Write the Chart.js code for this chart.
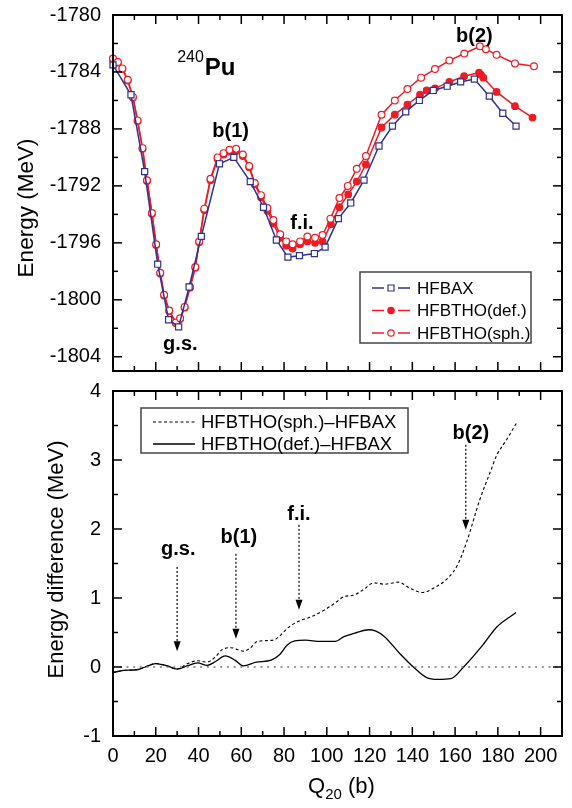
<!DOCTYPE html>
<html>
<head>
<meta charset="utf-8">
<title>240Pu energy curves</title>
<script src="https://cdn.jsdelivr.net/npm/chart.js@4.4.1/dist/chart.umd.min.js"></script>
<style>
  html, body { margin: 0; padding: 0; background: #fff; }
  #wrap { position: relative; width: 572px; height: 808px; overflow: hidden; }
  canvas { position: absolute; left: 0; }
  #top { top: -9px; }
  #bottom { top: 367px; }
</style>
</head>
<body>
<div id="wrap">
  <canvas id="top" width="572" height="404"></canvas>
  <canvas id="bottom" width="572" height="441"></canvas>
</div>
<script>
// ---- top panel: total energy (MeV) vs Q20 (b)
let baxQ = [0, 8.4, 14.8, 20.9, 26, 30.7, 35.6, 41.3, 49.8, 56.5, 64.2, 70.4, 76.4, 81.8, 87.2, 94.2, 99.2, 105.4, 111.2, 117.4, 124.4, 130.7, 136.9, 143.3, 149.8, 156.3, 162.6, 169, 176, 182.3, 188.5];
let baxE = [-1783.5, -1785.6, -1791.0, -1797.5, -1801.4, -1801.9, -1799.1, -1795.55, -1790.45, -1790.0, -1791.7, -1793.5, -1795.8, -1797.0, -1796.9, -1796.75, -1796.3, -1794.3, -1793.2, -1791.6, -1789.2, -1787.8, -1786.8, -1786.0, -1785.3, -1785.0, -1784.7, -1784.5, -1785.7, -1786.9, -1787.8];

let defQ = [0, 2.3, 4.4, 6.9, 9.3, 11.5, 13.8, 15.9, 18.2, 20.2, 22.1, 23.9, 26.3, 29.4, 31.4, 33.5, 36, 38.5, 40.3, 42.7, 45.6, 48.9, 51.7, 54.5, 57.6, 60.7, 63.7, 66.3, 69.2, 72.2, 75, 78.2, 81, 84, 87.5, 90.9, 94.5, 98, 101.9, 105.9, 110, 114, 118.3, 125.6, 131.8, 137.7, 143.6, 146.7, 150.6, 157.3, 164.2, 171.2, 172.1, 173.2, 179.4, 188, 196.2];
let defE = [-1783.1, -1783.35, -1783.8, -1784.6, -1785.8, -1787.45, -1789.4, -1791.65, -1793.95, -1796.15, -1798.15, -1799.7, -1800.8, -1801.65, -1801.35, -1800.55, -1799.15, -1797.75, -1795.95, -1793.7, -1791.6, -1790.1, -1789.8, -1789.6, -1789.55, -1789.9, -1790.7, -1791.9, -1792.8, -1793.75, -1794.65, -1795.65, -1796.2, -1796.4, -1796.1, -1795.9, -1796.0, -1795.9, -1794.7, -1793.5, -1792.6, -1791.7, -1790.5, -1787.9, -1787.0, -1786.3, -1785.6, -1785.3, -1785.15, -1784.7, -1784.3, -1784.05, -1784.2, -1784.4, -1785.4, -1786.4, -1787.2];

let sphQ = [0, 2.3, 4.4, 6.9, 9.3, 11.5, 13.8, 15.9, 18.2, 20.2, 22.1, 23.9, 26.3, 29.4, 31.4, 33.5, 36, 38.5, 40.3, 42.7, 45.6, 48.9, 51.7, 54.5, 57.6, 60.7, 63.7, 66.3, 69.2, 72.2, 75, 78.2, 81, 84, 87.5, 90.9, 94.5, 98, 101.7, 105.9, 109.8, 114, 118.3, 125.6, 131.8, 137.7, 144.1, 150.6, 157.3, 164.3, 171.6, 174.4, 179.4, 188, 196.9];
let sphE = [-1783.05, -1783.3, -1783.75, -1784.55, -1785.75, -1787.4, -1789.35, -1791.6, -1793.9, -1796.1, -1798.1, -1799.65, -1800.75, -1801.6, -1801.3, -1800.5, -1799.1, -1797.7, -1795.9, -1793.6, -1791.5, -1790.0, -1789.7, -1789.47, -1789.4, -1789.8, -1790.6, -1791.8, -1792.65, -1793.55, -1794.4, -1795.4, -1795.9, -1796.1, -1795.9, -1795.55, -1795.65, -1795.45, -1794.3, -1792.85, -1792.0, -1790.8, -1789.9, -1787.0, -1786.0, -1785.2, -1784.4, -1783.8, -1783.2, -1782.7, -1782.2, -1782.4, -1782.8, -1783.4, -1783.6];

let topYTicks = [-1804, -1802, -1800, -1798, -1796, -1794, -1792, -1790, -1788, -1786, -1784, -1782, -1780];

let topNoteText = ['b(1)', 'g.s.', 'f.i.', 'b(2)'];
let topNoteQ = [55, 31.5, 88.4, 169];
let topNoteE = [-1788.6, -1803.5, -1795.0, -1781.9];

// ---- bottom panel: energy difference (MeV)
let solidQ = [0, 5, 11, 15, 20, 25, 30, 35, 39.5, 44, 48, 52.5, 57, 61, 67, 74, 78, 81.5, 85, 90, 97, 104, 108, 114, 119.5, 123, 127, 134, 140.5, 146.5, 152, 158, 164, 173, 179.5, 188.5];
let solidD = [-0.08, -0.05, -0.04, 0.0, 0.05, 0.02, -0.03, 0.02, 0.06, 0.025, 0.08, 0.16, 0.1, 0.015, 0.07, 0.1, 0.18, 0.32, 0.38, 0.39, 0.37, 0.37, 0.44, 0.5, 0.54, 0.52, 0.44, 0.2, 0.0, -0.15, -0.18, -0.17, 0.0, 0.32, 0.58, 0.79];

let dashQ = [0, 5, 11, 15, 20, 25, 30, 35, 39.5, 44, 48, 51, 55, 61, 64, 67.5, 75, 78, 81.5, 86.5, 92, 98.5, 104, 108, 112.5, 117, 122, 127, 133.5, 139, 144.5, 151, 157, 161, 165.5, 171.5, 176.5, 179.5, 184, 189];
let dashD = [-0.08, -0.05, -0.04, 0.0, 0.05, 0.02, -0.03, 0.05, 0.09, 0.07, 0.15, 0.25, 0.28, 0.23, 0.27, 0.37, 0.39, 0.45, 0.56, 0.66, 0.72, 0.82, 0.93, 1.02, 1.04, 1.12, 1.22, 1.2, 1.23, 1.14, 1.08, 1.16, 1.3, 1.47, 1.82, 2.42, 2.83, 3.07, 3.29, 3.55];

let zeroQ = [0, 210];
let zeroD = [0, 0];

let arrowText = ['g.s.', 'b(1)', 'f.i.', 'b(2)'];
let arrowQ = [30, 57.5, 87, 165];
let arrowTop = [1.45, 1.64, 2.06, 3.22];
let arrowTip = [0.23, 0.41, 0.83, 1.99];
let labelQ = [30.5, 58.9, 87, 167.4];
let labelD = [1.71, 1.88, 2.21, 3.38];

const BLUE = '#2e3192';
const RED = '#ed1c24';
const FONT = '"Liberation Sans", Arial, sans-serif';

Chart.defaults.font.family = FONT;
Chart.defaults.color = '#000';

function pts(xs, ys) {
  return xs.map((q, i) => ({x: q, y: ys[i]}));
}

function line(ctx, x0, y0, x1, y1) {
  ctx.beginPath();
  ctx.moveTo(x0, y0);
  ctx.lineTo(x1, y1);
  ctx.stroke();
}

// box round the plot and tick marks pointing inward on all four sides
const frameTicks = {
  id: 'frameTicks',
  afterDatasetsDraw(chart) {
    const {ctx, chartArea: a, scales} = chart;
    ctx.save();
    ctx.strokeStyle = '#000';
    ctx.lineWidth = 1.5;
    scales.x.ticks.forEach(t => {
      const px = scales.x.getPixelForValue(t.value);
      if (px <= a.left + 1 || px >= a.right - 1) return;
      const len = t.label !== '' ? 9 : 5;
      line(ctx, px, a.bottom, px, a.bottom - len);
      line(ctx, px, a.top, px, a.top + len);
    });
    scales.y.ticks.forEach(t => {
      const py = scales.y.getPixelForValue(t.value);
      if (py <= a.top + 1 || py >= a.bottom - 1) return;
      const len = t.label !== '' ? 9 : 5;
      line(ctx, a.left, py, a.left + len, py);
      line(ctx, a.right, py, a.right - len, py);
    });
    ctx.lineWidth = 2;
    ctx.strokeRect(a.left, a.top, a.right - a.left, a.bottom - a.top);
    ctx.restore();
  }
};

function yTitle(ctx, text, cx, cy, size) {
  ctx.save();
  ctx.translate(cx, cy);
  ctx.rotate(-Math.PI / 2);
  ctx.font = size + 'px ' + FONT;
  ctx.textAlign = 'center';
  ctx.textBaseline = 'middle';
  ctx.fillStyle = '#000';
  ctx.fillText(text, 0, 0);
  ctx.restore();
}

const topNotes = {
  id: 'topNotes',
  afterDraw(chart) {
    const {ctx, chartArea: a, scales: {x, y}} = chart;
    ctx.save();
    ctx.fillStyle = '#000';
    ctx.textAlign = 'center';
    ctx.textBaseline = 'alphabetic';
    ctx.font = 'bold 20px ' + FONT;
    topNoteText.forEach((t, i) => {
      ctx.fillText(t, x.getPixelForValue(topNoteQ[i]), y.getPixelForValue(topNoteE[i]));
    });

    // isotope name
    ctx.textAlign = 'left';
    const ix = x.getPixelForValue(30);
    ctx.font = '16px ' + FONT;
    ctx.fillText('240', ix, y.getPixelForValue(-1783.3));
    const w = ctx.measureText('240').width;
    ctx.font = 'bold 24px ' + FONT;
    ctx.fillText('Pu', ix + w + 1, y.getPixelForValue(-1784.2));

    // legend
    const lx = a.right - 202, ly = a.bottom - 99;
    ctx.strokeStyle = '#444';
    ctx.lineWidth = 1.5;
    ctx.strokeRect(lx, ly, 171, 71);
    chart.data.datasets.forEach((ds, i) => {
      const ry = ly + 16 + i * 22.5;
      ctx.strokeStyle = ds.borderColor;
      ctx.lineWidth = 1.5;
      line(ctx, lx + 12, ry, lx + 24, ry);
      line(ctx, lx + 38, ry, lx + 50, ry);
      ctx.lineWidth = 1.2;
      ctx.fillStyle = ds.backgroundColor;
      ctx.beginPath();
      if (ds.pointStyle === 'rect') {
        ctx.rect(lx + 28, ry - 3, 6, 6);
      } else {
        ctx.arc(lx + 31, ry, 3.2, 0, Math.PI * 2);
      }
      ctx.fill();
      ctx.stroke();
      ctx.fillStyle = '#000';
      ctx.font = '17px ' + FONT;
      ctx.textBaseline = 'middle';
      ctx.fillText(ds.label, lx + 57, ry + 1);
    });
    ctx.restore();

    yTitle(ctx, 'Energy (MeV)', 27, (a.top + a.bottom) / 2 + 15, 22.5);
  }
};

const bottomNotes = {
  id: 'bottomNotes',
  afterDraw(chart) {
    const {ctx, chartArea: a, scales: {x, y}} = chart;
    ctx.save();
    ctx.fillStyle = '#000';
    ctx.strokeStyle = '#000';

    // arrows pointing at g.s., b(1), f.i., b(2)
    arrowQ.forEach((q, i) => {
      const px = x.getPixelForValue(q);
      const y0 = y.getPixelForValue(arrowTop[i]);
      const y1 = y.getPixelForValue(arrowTip[i]);
      ctx.lineWidth = 1.2;
      ctx.setLineDash([2, 2]);
      line(ctx, px, y0, px, y1 - 9);
      ctx.setLineDash([]);
      ctx.beginPath();
      ctx.moveTo(px - 3.5, y1 - 10);
      ctx.lineTo(px + 3.5, y1 - 10);
      ctx.lineTo(px, y1);
      ctx.closePath();
      ctx.fill();

      ctx.font = 'bold 20px ' + FONT;
      ctx.textAlign = 'center';
      ctx.textBaseline = 'middle';
      ctx.fillText(arrowText[i], x.getPixelForValue(labelQ[i]), y.getPixelForValue(labelD[i]));
    });

    // legend
    const lx = a.left + 28, ly = a.top + 17;
    ctx.strokeStyle = '#444';
    ctx.lineWidth = 1.5;
    ctx.strokeRect(lx, ly, 267, 45);
    const rows = [chart.data.datasets[1], chart.data.datasets[2]];
    rows.forEach((ds, i) => {
      const ry = ly + 14 + i * 22;
      ctx.strokeStyle = '#000';
      ctx.lineWidth = ds.borderWidth;
      ctx.setLineDash(ds.borderDash || []);
      line(ctx, lx + 12, ry, lx + 54, ry);
      ctx.setLineDash([]);
      ctx.font = '18.5px ' + FONT;
      ctx.textAlign = 'left';
      ctx.textBaseline = 'middle';
      ctx.fillText(ds.label, lx + 60, ry + 1);
    });

    // x axis title with subscript
    const bx = (a.left + a.right) / 2 + 4, by = a.bottom + 57;
    ctx.textBaseline = 'alphabetic';
    ctx.textAlign = 'left';
    ctx.font = '22px ' + FONT;
    const wQ = ctx.measureText('Q').width;
    const wB = ctx.measureText(' (b)').width;
    ctx.font = '15px ' + FONT;
    const wS = ctx.measureText('20').width;
    let sx = bx - (wQ + wS + wB) / 2;
    ctx.font = '22px ' + FONT;
    ctx.fillText('Q', sx, by);
    ctx.font = '15px ' + FONT;
    ctx.fillText('20', sx + wQ, by + 6);
    ctx.font = '22px ' + FONT;
    ctx.fillText(' (b)', sx + wQ + wS, by);
    ctx.restore();

    yTitle(ctx, 'Energy difference (MeV)', 57, (a.top + a.bottom) / 2 - 4, 22);
  }
};

new Chart(document.getElementById('top'), {
  type: 'line',
  data: {
    datasets: [
      {label: 'HFBAX', data: pts(baxQ, baxE), borderColor: BLUE, backgroundColor: '#fff', order: 0,
       pointStyle: 'rect', pointRadius: 4.3, pointBorderWidth: 1.2, borderWidth: 1.5, clip: false},
      {label: 'HFBTHO(def.)', data: pts(defQ, defE), borderColor: RED, backgroundColor: RED, order: 2,
       pointStyle: 'circle', pointRadius: 3.3, pointBorderWidth: 1.2, borderWidth: 1.5, clip: false},
      {label: 'HFBTHO(sph.)', data: pts(sphQ, sphE), borderColor: RED, backgroundColor: '#fff', order: 1,
       pointStyle: 'circle', pointRadius: 3.4, pointBorderWidth: 1.2, borderWidth: 1.5, clip: false}
    ]
  },
  options: {
    responsive: false,
    animation: false,
    devicePixelRatio: 1,
    layout: {padding: {left: 0, right: 10, top: 0, bottom: 0}},
    plugins: {legend: {display: false}, tooltip: {enabled: false}},
    scales: {
      x: {
        type: 'linear', min: 0, max: 210,
        ticks: {display: false, stepSize: 10, autoSkip: false, callback: v => (v % 20 === 0 ? String(v) : '')},
        grid: {display: false, drawTicks: false},
        border: {display: false},
        afterFit: s => { s.height = 0; }
      },
      y: {
        min: -1805, max: -1780,
        ticks: {autoSkip: false, padding: 12, color: '#000', font: {size: 20},
                callback: v => (v % 4 === 0 ? String(v) : '')},
        grid: {display: false, drawTicks: false},
        border: {display: false},
        afterBuildTicks: s => { s.ticks = topYTicks.map(v => ({value: v})); },
        afterFit: s => { s.width = 113; }
      }
    }
  },
  plugins: [frameTicks, topNotes]
});

new Chart(document.getElementById('bottom'), {
  type: 'line',
  data: {
    datasets: [
      {label: 'zero', data: pts(zeroQ, zeroD), borderColor: '#777', borderWidth: 1.6,
       borderDash: [2, 4.7], pointRadius: 0},
      {label: 'HFBTHO(sph.)–HFBAX', data: pts(dashQ, dashD), borderColor: '#000', borderWidth: 1.1,
       borderDash: [3, 2.5], pointRadius: 0, cubicInterpolationMode: 'monotone'},
      {label: 'HFBTHO(def.)–HFBAX', data: pts(solidQ, solidD), borderColor: '#000', borderWidth: 1.3,
       pointRadius: 0, cubicInterpolationMode: 'monotone'}
    ]
  },
  options: {
    responsive: false,
    animation: false,
    devicePixelRatio: 1,
    layout: {padding: {left: 0, right: 10, top: 0, bottom: 0}},
    plugins: {legend: {display: false}, tooltip: {enabled: false}},
    scales: {
      x: {
        type: 'linear', min: 0, max: 210,
        ticks: {stepSize: 10, autoSkip: false, maxRotation: 0, padding: 8, color: '#000', font: {size: 20},
                callback: v => (v % 20 === 0 ? String(v) : '')},
        grid: {display: false, drawTicks: false},
        border: {display: false},
        afterFit: s => { s.height = 72; }
      },
      y: {
        min: -1, max: 4,
        ticks: {stepSize: 0.5, autoSkip: false, padding: 12, color: '#000', font: {size: 20},
                callback: v => (Number.isInteger(v) ? String(v) : '')},
        grid: {display: false, drawTicks: false},
        border: {display: false},
        afterFit: s => { s.width = 113; }
      }
    }
  },
  plugins: [frameTicks, bottomNotes]
});
</script>
</body>
</html>
